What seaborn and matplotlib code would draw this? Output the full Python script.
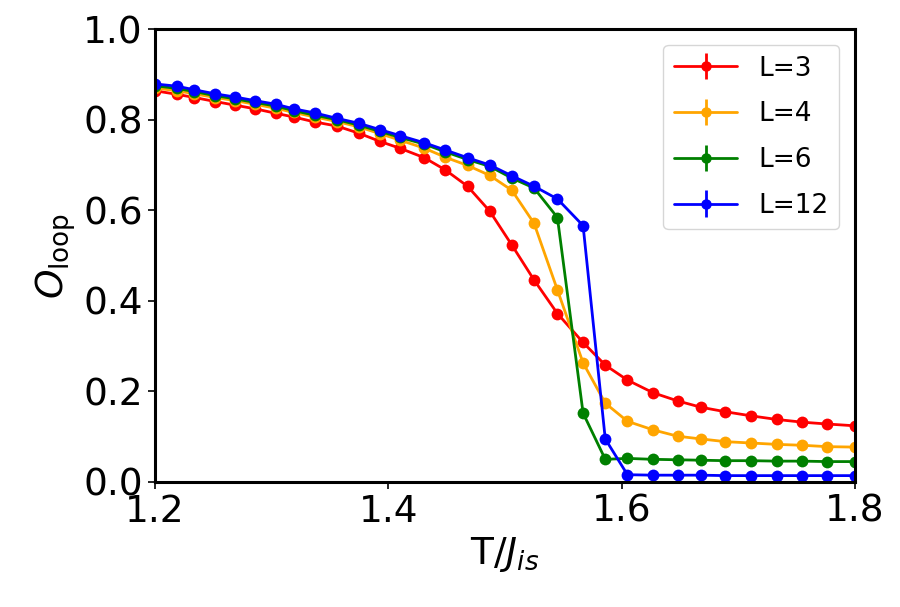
import matplotlib
matplotlib.use("Agg")
import matplotlib.pyplot as plt
import pandas as pd
import seaborn as sns

# temperatures
T = [1.200, 1.219, 1.234, 1.252, 1.269, 1.286, 1.304, 1.319, 1.337, 1.356,
     1.375, 1.393, 1.410, 1.431, 1.449, 1.468, 1.487, 1.506, 1.525, 1.545,
     1.567, 1.586, 1.605, 1.627, 1.648, 1.668, 1.689, 1.711, 1.733, 1.755,
     1.776, 1.800]

o_L3 = [0.864, 0.856, 0.849, 0.840, 0.832, 0.824, 0.814, 0.806, 0.795, 0.786,
        0.770, 0.752, 0.737, 0.716, 0.689, 0.653, 0.598, 0.523, 0.446, 0.372,
        0.308, 0.258, 0.225, 0.197, 0.179, 0.165, 0.155, 0.146, 0.138, 0.132,
        0.128, 0.124]
o_L4 = [0.870, 0.864, 0.857, 0.849, 0.842, 0.834, 0.825, 0.816, 0.806, 0.796,
        0.784, 0.769, 0.755, 0.737, 0.717, 0.699, 0.677, 0.644, 0.571, 0.424,
        0.263, 0.174, 0.134, 0.115, 0.101, 0.095, 0.089, 0.086, 0.083, 0.081,
        0.078, 0.077]
o_L6 = [0.875, 0.869, 0.862, 0.853, 0.846, 0.838, 0.830, 0.820, 0.810, 0.800,
        0.788, 0.774, 0.761, 0.746, 0.729, 0.712, 0.697, 0.671, 0.649, 0.584,
        0.152, 0.050, 0.052, 0.050, 0.049, 0.048, 0.047, 0.047, 0.046, 0.046,
        0.045, 0.045]
o_L12 = [0.879, 0.874, 0.866, 0.857, 0.850, 0.842, 0.834, 0.824, 0.815, 0.803,
         0.792, 0.778, 0.765, 0.749, 0.733, 0.716, 0.700, 0.676, 0.653, 0.625,
         0.566, 0.095, 0.016, 0.015, 0.015, 0.015, 0.014, 0.014, 0.014, 0.014,
         0.014, 0.014]

sizes = ["L=3", "L=4", "L=6", "L=12"]
colors = ["red", "orange", "green", "blue"]

df = pd.concat([
    pd.DataFrame({"T": T, "O": vals, "L": lab})
    for vals, lab in zip([o_L3, o_L4, o_L6, o_L12], sizes)
])

sns.set_style("ticks", {"axes.edgecolor": "black", "text.color": "black",
                        "xtick.color": "black", "ytick.color": "black",
                        "axes.labelcolor": "black"})
plt.rcParams["mathtext.fontset"] = "dejavusans"

fig = plt.figure(figsize=(9, 6.07), dpi=100)
ax = fig.add_axes([0.172, 0.206, 0.778, 0.746])

sns.lineplot(data=df, x="T", y="O", hue="L", hue_order=sizes, palette=colors,
             marker="o", markersize=8.5, markeredgewidth=0, linewidth=2,
             legend=False, ax=ax)

# legend handles with error bar look, like the original errorbar plot
handles = []
for c, lab in zip(colors, sizes):
    h = ax.errorbar([], [], yerr=[], color=c, marker="o", markersize=6.5,
                    linewidth=2, capsize=3, elinewidth=2, label=lab)
    handles.append(h)
ax.legend(handles=handles, loc="upper right", fontsize=19, handlelength=2.4,
          labelspacing=0.75, borderaxespad=0.6, frameon=True, fancybox=True)

ax.set_xlim(1.2, 1.8)
ax.set_ylim(0.0, 1.0)
ax.set_xticks([1.2, 1.4, 1.6, 1.8])
ax.set_yticks([0.0, 0.2, 0.4, 0.6, 0.8, 1.0])
ax.tick_params(labelsize=27, width=1.2, length=5, colors="black")
for s in ax.spines.values():
    s.set_linewidth(2.2)
    s.set_color("black")
    s.set_visible(True)

ax.set_xlabel(r"T/$J_{is}$", fontsize=27)
ax.set_ylabel(r"$O_{\mathrm{loop}}$", fontsize=27)

fig.savefig("out.png", dpi=100)
